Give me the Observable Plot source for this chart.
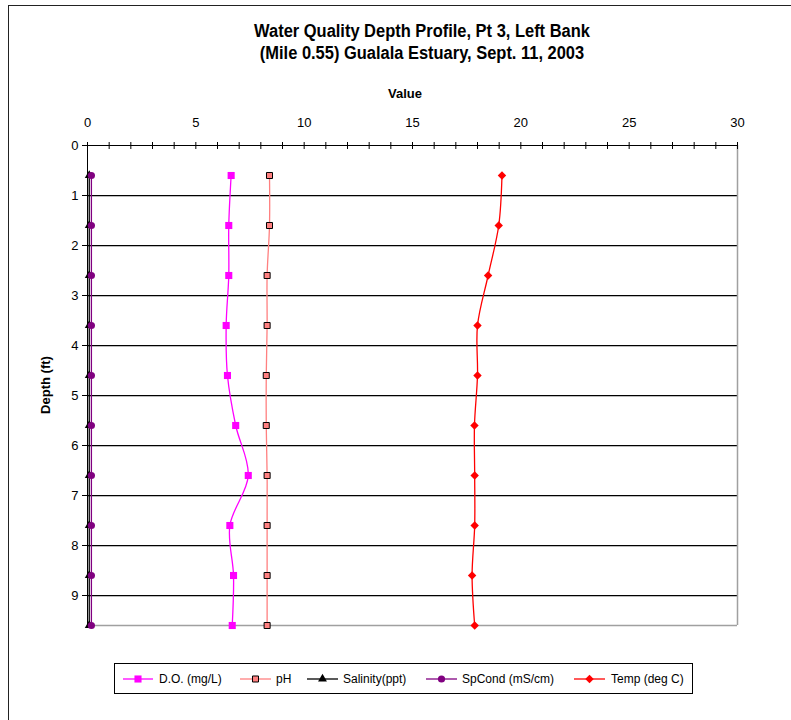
<!DOCTYPE html>
<html>
<head>
<meta charset="utf-8">
<script src="https://cdn.jsdelivr.net/npm/d3@7"></script>
<script src="https://cdn.jsdelivr.net/npm/@observablehq/plot@0.6"></script>
<style>
  html, body { margin: 0; padding: 0; background: #fff; }
  body { font-family: Arial, "Liberation Sans", sans-serif; }
  #wrap { position: relative; width: 791px; height: 720px; overflow: hidden; }
  #frame { position: absolute; left: 8px; top: 5px; width: 800px; height: 730px; border: 1px solid #222; box-sizing: border-box; }
  #chart { position: absolute; left: 0; top: 0; }
  .title { position: absolute; left: 172px; width: 500px; text-align: center; font-weight: bold; font-size: 17.5px; color: #000; white-space: nowrap; transform: scaleX(0.94); line-height: 20px; }
  #xlabel { position: absolute; left: 355px; width: 100px; top: 86px; text-align: center; font-weight: bold; font-size: 13px; }
  #ylabel { position: absolute; left: 45px; top: 385px; transform: translate(-50%, -50%) rotate(-90deg); font-weight: bold; font-size: 13px; white-space: nowrap; }
  #legend { position: absolute; left: 114px; top: 663px; width: 579px; height: 31px; border: 1px solid #000; box-sizing: border-box; background: #fff; }
</style>
</head>
<body>
<div id="wrap">
  <div id="frame"></div>
  <div id="chart"></div>
  <div class="title" style="top:21px">Water Quality Depth Profile, Pt 3, Left Bank</div>
  <div class="title" style="top:43px">(Mile 0.55) Gualala Estuary, Sept. 11, 2003</div>
  <div id="xlabel">Value</div>
  <div id="ylabel">Depth (ft)</div>
  <div id="legend"></div>
</div>
<script>
// ---- Data ----
const depths = [0.6, 1.6, 2.6, 3.6, 4.6, 5.6, 6.6, 7.6, 8.6, 9.6];
const doValues = [6.63, 6.52, 6.52, 6.40, 6.46, 6.84, 7.42, 6.57, 6.74, 6.68];
const phValues = [8.40, 8.40, 8.29, 8.29, 8.25, 8.25, 8.29, 8.29, 8.29, 8.29];
const salinityValues = [0.08, 0.08, 0.08, 0.08, 0.08, 0.08, 0.08, 0.08, 0.08, 0.08];
const spcondValues = [0.18, 0.18, 0.18, 0.18, 0.18, 0.18, 0.18, 0.18, 0.18, 0.18];
const tempValues = [19.13, 18.98, 18.49, 18.00, 18.00, 17.86, 17.87, 17.87, 17.75, 17.87];
const seriesNames = ["D.O. (mg/L)", "pH", "Salinity(ppt)", "SpCond (mS/cm)", "Temp (deg C)"];
const xTickValues = [0, 5, 10, 15, 20, 25, 30];
const xMinorTicks = [0,1,2,3,4,5,6,7,8,9,10,11,12,13,14,15,16,17,18,19,20,21,22,23,24,25,26,27,28,29,30];
const yTickValues = [0, 1, 2, 3, 4, 5, 6, 7, 8, 9];
const yGridValues = [1, 2, 3, 4, 5, 6, 7, 8, 9];

// styles per series
const styles = [
  {vals: doValues, stroke: "#FF00FF", symbol: "square", fill: "#FF00FF", mstroke: "none", r: 4},
  {vals: phValues, stroke: "#FF8080", symbol: "square", fill: "#FF8080", mstroke: "#000", r: 3.4},
  {vals: salinityValues, stroke: "#000000", symbol: "triangle", fill: "#000", mstroke: "none", r: 3.3},
  {vals: spcondValues, stroke: "#800080", symbol: "circle", fill: "#800080", mstroke: "none", r: 3.6},
  {vals: tempValues, stroke: "#FF0000", symbol: "diamond2", fill: "#FF0000", mstroke: "none", r: 3.8}
];

const marks = [];
// grid
marks.push(Plot.ruleY(yGridValues, {y: d => d, stroke: "#bbbbbb", strokeWidth: 1, dy: 1}));
marks.push(Plot.ruleY(yGridValues, {y: d => d, stroke: "#000", strokeWidth: 1}));
marks.push(Plot.ruleY([9.6], {stroke: "#a0a0a0", strokeWidth: 1.5}));
marks.push(Plot.ruleX([30], {stroke: "#a0a0a0", strokeWidth: 1.5}));
// axes
marks.push(Plot.ruleY([0], {stroke: "#000", strokeWidth: 1}));
marks.push(Plot.axisX({anchor: "top", ticks: xMinorTicks, tickSize: 4, text: null, label: null, stroke: "#000", strokeOpacity: 1}));
marks.push(Plot.ruleX(xMinorTicks, {x: d => d, y1: 0, y2: 0.08, stroke: "#000"}));
marks.push(Plot.axisX({anchor: "top", ticks: xTickValues, tickSize: 0, tickPadding: 18.5, fontSize: 13, fill: "#000", label: null, tickFormat: d => String(d)}));
marks.push(Plot.axisY({anchor: "left", ticks: yTickValues, tickSize: 5, tickPadding: 4, fontSize: 13, fill: "#000", stroke: "#000", strokeOpacity: 1, label: null, tickFormat: d => String(d)}));

styles.forEach(s => {
  const rows = depths.map((d, i) => ({depth: d, v: s.vals[i]}));
  marks.push(Plot.line(rows, {x: "v", y: "depth", stroke: s.stroke, strokeWidth: 1.3, curve: "catmull-rom"}));
});
marks.push(Plot.ruleX([0], {stroke: "#000", strokeWidth: 1}));
styles.forEach(s => {
  const rows = depths.map((d, i) => ({depth: d, v: s.vals[i]}));
  marks.push(Plot.dot(rows, {x: "v", y: "depth", symbol: s.symbol, fill: s.fill, stroke: s.mstroke, strokeWidth: 1, r: s.r}));
});

const chart = Plot.plot({
  width: 791,
  height: 720,
  marginTop: 145,
  marginLeft: 87,
  marginRight: 54,
  marginBottom: 95,
  style: {fontFamily: "Arial, 'Liberation Sans', sans-serif", background: "transparent", color: "#000"},
  x: {domain: [0, 30]},
  y: {domain: [0, 9.6], reverse: true},
  marks
});
document.getElementById("chart").appendChild(chart);

// ---- legend ----
const legendPos = [
  {x0: 8, x1: 38, tx: 44},
  {x0: 125, x1: 156, tx: 161},
  {x0: 192, x1: 223, tx: 228},
  {x0: 311, x1: 342, tx: 347},
  {x0: 459, x1: 490, tx: 496}
];
const lsvg = d3.select("#legend").append("svg").attr("width", 577).attr("height", 29)
  .style("position", "absolute").style("left", "0px").style("top", "0px");
const symMap = {square: d3.symbolSquare, triangle: d3.symbolTriangle, circle: d3.symbolCircle, diamond2: d3.symbolDiamond2};
styles.forEach((s, i) => {
  const p = legendPos[i];
  const cy = 15;
  lsvg.append("line").attr("x1", p.x0).attr("x2", p.x1).attr("y1", cy).attr("y2", cy)
    .attr("stroke", s.stroke).attr("stroke-width", 1.3);
  lsvg.append("path").attr("d", d3.symbol(symMap[s.symbol], Math.PI * s.r * s.r)())
    .attr("transform", `translate(${(p.x0 + p.x1) / 2},${cy})`)
    .attr("fill", s.fill).attr("stroke", s.mstroke === "none" ? null : s.mstroke);
  lsvg.append("text").attr("x", p.tx).attr("y", cy).attr("dy", "0.35em")
    .attr("font-size", 12).attr("font-family", "Arial, 'Liberation Sans', sans-serif")
    .text(seriesNames[i]);
});
</script>
</body>
</html>
